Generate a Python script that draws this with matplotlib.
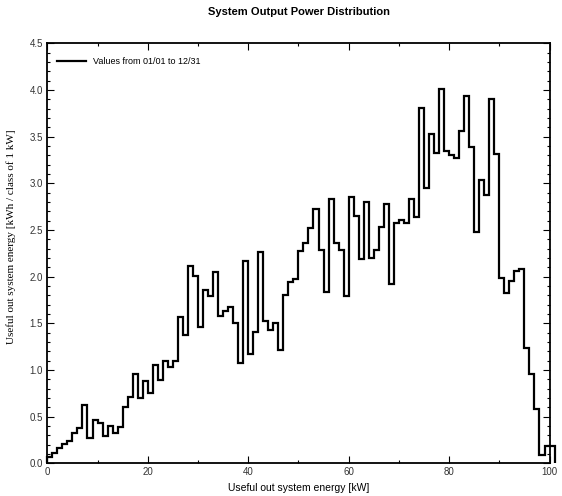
import matplotlib
matplotlib.use("Agg")
import matplotlib.pyplot as plt
from matplotlib.ticker import MultipleLocator
import numpy as np

# energy per 1 kW class (bins 0..100 kW)
class_edges = np.arange(0, 102)
energy = [
    0.07, 0.11, 0.16, 0.21, 0.24, 0.32, 0.38, 0.625, 0.27, 0.46,
    0.43, 0.29, 0.40, 0.33, 0.39, 0.60, 0.71, 0.96, 0.70, 0.88,
    0.75, 1.05, 0.89, 1.10, 1.03, 1.10, 1.57, 1.37, 2.11, 2.01,
    1.46, 1.86, 1.79, 2.05, 1.58, 1.63, 1.68, 1.50, 1.08, 2.17,
    1.17, 1.41, 2.26, 1.525, 1.43, 1.50, 1.21, 1.80, 1.94, 1.98,
    2.28, 2.36, 2.52, 2.725, 2.29, 1.84, 2.83, 2.36, 2.29, 1.79,
    2.85, 2.65, 2.19, 2.80, 2.20, 2.29, 2.53, 2.775, 1.92, 2.58,
    2.61, 2.58, 2.83, 2.64, 3.81, 2.95, 3.525, 3.33, 4.01, 3.35,
    3.30, 3.27, 3.56, 3.94, 3.39, 2.475, 3.04, 2.88, 3.90, 3.31,
    1.99, 1.83, 1.95, 2.06, 2.08, 1.24, 0.96, 0.58, 0.09, 0.19,
    0.19,
]
legend_label = "Values from 01/01 to 12/31"

plt.rcParams["font.family"] = ["Liberation Sans", "DejaVu Sans"]

fig = plt.figure(figsize=(5.62, 4.96), dpi=100)
ax = fig.add_axes([0.0842, 0.0659, 0.8936, 0.8466])

ax.stairs(energy, class_edges, color="black", linewidth=1.6,
          label=legend_label, clip_on=False)

ax.set_xlim(0, 100)
ax.set_ylim(0, 4.5)

ax.xaxis.set_major_locator(MultipleLocator(20))
ax.xaxis.set_minor_locator(MultipleLocator(10))
ax.yaxis.set_major_locator(MultipleLocator(0.5))
ax.yaxis.set_minor_locator(MultipleLocator(0.1))
ax.yaxis.set_major_formatter(plt.FormatStrFormatter("%.1f"))

ax.tick_params(which="both", direction="in", top=True, right=True,
               labelsize=7, labelcolor="#333333", width=0.8)
ax.tick_params(which="major", length=5)
ax.tick_params(which="minor", length=2.5)
ax.tick_params(axis="x", pad=3)
ax.tick_params(axis="y", pad=3)

for sp in ax.spines.values():
    sp.set_linewidth(1.3)

ax.set_xlabel("Useful out system energy [kW]", fontsize=7.5, labelpad=4)
ax.set_ylabel("Useful out system energy [kWh / class of 1 kW]",
              fontsize=8, family=["Liberation Serif", "DejaVu Serif"])
ax.yaxis.set_label_coords(-0.062, 0.54)
fig.text(0.532, 0.975, "System Output Power Distribution", ha="center",
         va="center", fontsize=8, fontweight="bold")

ax.legend(loc="upper left", frameon=False, fontsize=6.5,
          handlelength=3.2, bbox_to_anchor=(0.005, 0.985), borderaxespad=0.4)

fig.savefig("out.png", dpi=100)
